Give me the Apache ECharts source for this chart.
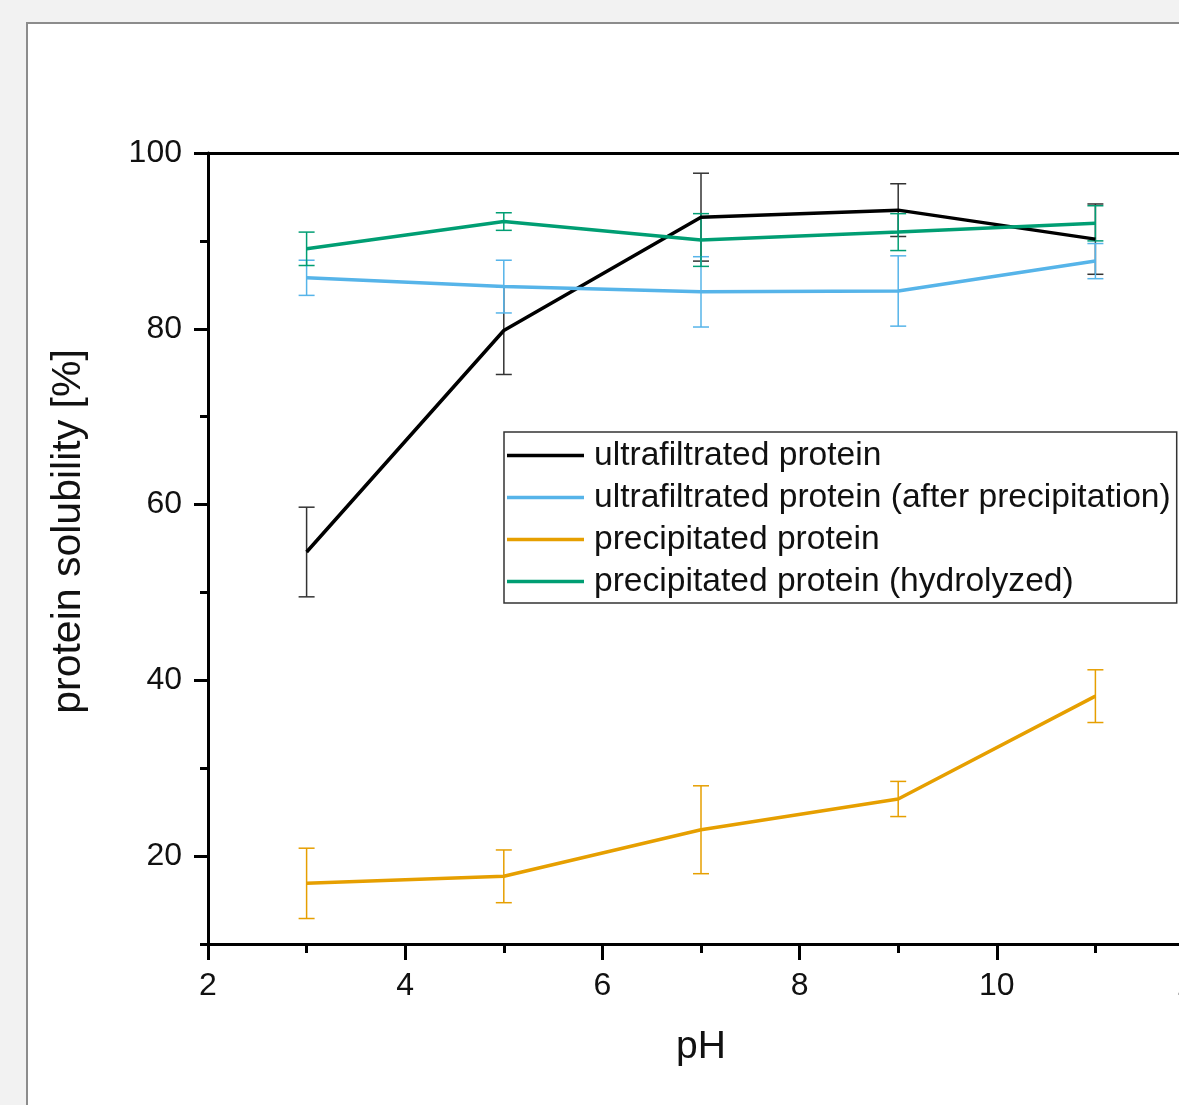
<!DOCTYPE html>
<html>
<head>
<meta charset="utf-8">
<script src="https://cdn.jsdelivr.net/npm/echarts@6/dist/echarts.min.js"></script>
<style>
html,body{margin:0;padding:0;width:1179px;height:1105px;overflow:hidden;background:#f2f2f2;}
#panel{position:absolute;left:26px;top:22px;width:2000px;height:2000px;background:#fff;border:2px solid #8c8c8c;}
#chart{position:absolute;left:0;top:0;width:1260px;height:1105px;}
</style>
</head>
<body>
<div id="panel"></div>
<div id="chart"></div>
<script>
// ---- data ----
const pH = [3, 5, 7, 9, 11];
const seriesNames = [
  'ultrafiltrated protein',
  'ultrafiltrated protein (after precipitation)',
  'precipitated protein',
  'precipitated protein (hydrolyzed)'
];
const ultrafiltrated      = [54.6, 79.8, 92.7, 93.5, 90.2];
const ultrafiltratedErr   = [5.1, 5.0, 5.0, 3.0, 4.0];
const ultraAfterPrecip    = [85.8, 84.8, 84.2, 84.3, 87.7];
const ultraAfterPrecipErr = [2.0, 3.0, 4.0, 4.0, 2.0];
const precipitated        = [16.9, 17.7, 23.0, 26.5, 38.2];
const precipitatedErr     = [4.0, 3.0, 5.0, 2.0, 3.0];
const hydrolyzed          = [89.1, 92.2, 90.1, 91.0, 92.0];
const hydrolyzedErr       = [1.9, 1.0, 3.0, 2.1, 2.0];
const yMajorTicks = [20, 40, 60, 80, 100];
const colors = ['#000000', '#56B4E9', '#E69F00', '#009E73'];
const errColors = ['#333333', '#56B4E9', '#E69F00', '#009E73'];

const values = [ultrafiltrated, ultraAfterPrecip, precipitated, hydrolyzed];
const errors = [ultrafiltratedErr, ultraAfterPrecipErr, precipitatedErr, hydrolyzedErr];

const FONT = "'Liberation Sans', Arial, sans-serif";

const chart = echarts.init(document.getElementById('chart'), null, {renderer: 'canvas'});

function errSeries(i) {
  return {
    type: 'custom',
    name: seriesNames[i] + ' err',
    xAxisIndex: 0, yAxisIndex: 0,
    silent: true,
    z: 3,
    data: pH.map((x, k) => [x, values[i][k] - errors[i][k], values[i][k] + errors[i][k]]),
    renderItem: function (params, api) {
      const lo = api.coord([api.value(0), api.value(1)]);
      const hi = api.coord([api.value(0), api.value(2)]);
      const hw = 8;
      const st = {stroke: errColors[i], lineWidth: 1.5, fill: null};
      return {
        type: 'group',
        children: [
          {type: 'line', shape: {x1: lo[0], y1: lo[1], x2: hi[0], y2: hi[1]}, style: st},
          {type: 'line', shape: {x1: lo[0] - hw, y1: lo[1], x2: lo[0] + hw, y2: lo[1]}, style: st},
          {type: 'line', shape: {x1: hi[0] - hw, y1: hi[1], x2: hi[0] + hw, y2: hi[1]}, style: st}
        ]
      };
    }
  };
}

const lineSeries = values.map((v, i) => ({
  type: 'line',
  name: seriesNames[i],
  xAxisIndex: 0, yAxisIndex: 0,
  data: pH.map((x, k) => [x, v[k]]),
  symbol: 'none',
  lineStyle: {color: colors[i], width: 3.5},
  itemStyle: {color: colors[i]},
  z: 4
}));

const option = {
  animation: false,
  backgroundColor: 'transparent',
  grid: {left: 208, top: 153, right: 66, bottom: 161, containLabel: false},
  legend: {
    orient: 'vertical',
    left: 504, top: 432,
    data: seriesNames,
    icon: 'rect',
    itemWidth: 77, itemHeight: 3.5,
    itemGap: 3,
    padding: [4, 6, 2, 3],
    backgroundColor: '#ffffff',
    borderColor: '#333333',
    borderWidth: 1.5,
    borderRadius: 0,
    textStyle: {fontFamily: FONT, fontSize: 33.6, color: '#111', lineHeight: 39, padding: [0, 0, 0, 5]},
    z: 10
  },
  xAxis: [
    {
      type: 'value', min: 2, max: 12, interval: 2, position: 'bottom',
      name: 'pH', nameLocation: 'middle', nameGap: 84,
      nameTextStyle: {fontFamily: FONT, fontSize: 39, color: '#111'},
      axisLine: {show: true, onZero: false, lineStyle: {color: '#000', width: 3}},
      axisTick: {show: true, inside: false, length: 16, lineStyle: {color: '#000', width: 3}},
      minorTick: {show: true, splitNumber: 2, length: 9, lineStyle: {color: '#000', width: 3}},
      axisLabel: {fontFamily: FONT, fontSize: 32, color: '#111', margin: 26},
      splitLine: {show: false}
    },
    {
      type: 'value', min: 2, max: 12, interval: 2, position: 'top',
      axisLine: {show: true, onZero: false, lineStyle: {color: '#000', width: 3}},
      axisTick: {show: false}, axisLabel: {show: false}, splitLine: {show: false}
    }
  ],
  yAxis: [
    {
      type: 'value', min: 10, max: 100, interval: 10, position: 'left',
      name: 'protein solubility [%]', nameLocation: 'middle', nameGap: 119,
      nameTextStyle: {fontFamily: FONT, fontSize: 41, color: '#111', padding: [0, 0, 0, 34]},
      axisLine: {show: true, onZero: false, lineStyle: {color: '#000', width: 3}},
      axisTick: {show: true, inside: false, length: 14, customValues: yMajorTicks, lineStyle: {color: '#000', width: 3}},
      axisLabel: {fontFamily: FONT, fontSize: 32, color: '#111', margin: 26, customValues: yMajorTicks},
      splitLine: {show: false}
    },
    {
      type: 'value', min: 10, max: 100, interval: 10, position: 'left',
      axisLine: {show: false, onZero: false},
      axisTick: {show: true, inside: false, length: 8, lineStyle: {color: '#000', width: 3}},
      axisLabel: {show: false}, splitLine: {show: false}
    },
    {
      type: 'value', min: 10, max: 100, interval: 10, position: 'right',
      axisLine: {show: true, onZero: false, lineStyle: {color: '#000', width: 3}},
      axisTick: {show: false}, axisLabel: {show: false}, splitLine: {show: false}
    }
  ],
  series: [0, 1, 2, 3].map(errSeries).concat(lineSeries)
};
chart.setOption(option);
</script>
</body>
</html>
